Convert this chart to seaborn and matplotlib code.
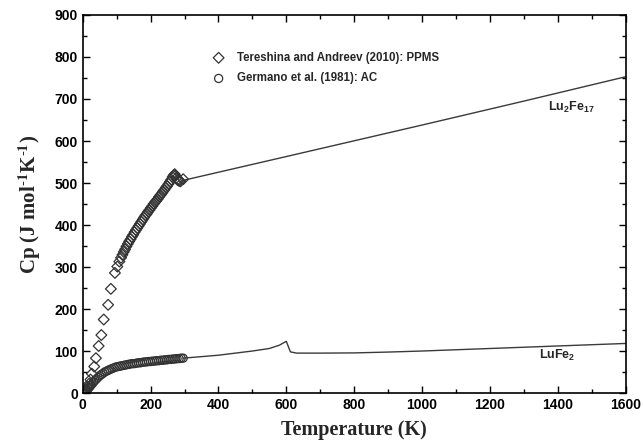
import matplotlib
matplotlib.use("Agg")
import matplotlib.pyplot as plt
import seaborn as sns

# Tereshina and Andreev (2010), PPMS: Lu2Fe17
t_pp = [2, 6, 10, 14, 19, 23, 27, 34, 39, 47, 55, 62, 75, 83, 95, 102, 108,
        113, 117, 121, 125, 129, 133, 137, 141, 145, 149, 153, 157, 161, 165,
        169, 173, 177, 181, 185, 189, 193, 197, 201, 205, 209, 213, 217, 221,
        225, 229, 233, 237, 241, 245, 249, 253, 257, 261, 265, 268, 271, 273,
        276, 279, 282, 285, 288, 296]
cp_pp = [0, 3, 8, 14, 22, 32, 46, 63, 83, 112, 138, 175, 210, 248, 286, 301, 313,
         322, 329, 336, 342, 349, 355, 361, 366, 372, 377, 383, 388, 393, 398,
         403, 408, 413, 418, 423, 427, 432, 436, 441, 445, 450, 454, 458, 462,
         467, 471, 475, 480, 484, 489, 493, 498, 503, 508, 514, 518, 521, 517,
         512, 508, 506, 505, 504, 509]

# Germano et al. (1981), AC: LuFe2
t_ac = [3, 8, 12, 16, 20, 24, 28, 32, 36, 40, 45, 50, 55, 60, 65, 70, 75, 80,
        86, 92, 98, 104, 110, 116, 122, 128, 134, 140, 146, 152, 158, 164, 170,
        176, 182, 188, 194, 200, 206, 212, 218, 224, 230, 236, 242, 248, 254,
        260, 266, 272, 278, 284, 290, 296]
cp_ac = [1, 3, 6, 10, 14, 18, 22, 26, 30, 33, 37, 41, 44, 47, 50, 52, 54, 56,
         58, 60, 62, 63, 64, 65, 66, 67, 68, 69, 70, 70, 71, 72, 72,
         73, 74, 74, 75, 75, 76, 76, 77, 77, 78, 78, 79, 79, 80,
         80, 81, 81, 82, 82, 83, 83]

# Assessed curves
t_lu2fe17 = [290, 300, 600, 1000, 1300, 1600]
cp_lu2fe17 = [505, 507, 563, 638, 695, 753]

t_lufe2 = [296, 400, 500, 550, 580, 595, 600, 612, 630, 700, 800, 900, 1000,
           1200, 1400, 1600]
cp_lufe2 = [83, 90, 100, 106, 114, 121, 123, 98, 95, 95, 95.5, 97.5, 100,
            106, 112, 118]

x_ticks = list(range(0, 1601, 200))
y_ticks = list(range(0, 901, 100))

sns.set_style("ticks")
plt.rcParams["font.family"] = ["Liberation Sans", "DejaVu Sans"]
plt.rcParams["mathtext.fontset"] = "custom"
plt.rcParams["mathtext.rm"] = "Liberation Sans:bold"
plt.rcParams["mathtext.bf"] = "Liberation Sans:bold"

fig = plt.figure(figsize=(6.43, 4.41), dpi=100)
ax = fig.add_axes([0.1286, 0.1088, 0.8445, 0.8572])

line_kw = dict(color="#3a3a3a", linewidth=1.0, legend=False, ax=ax)
sns.lineplot(x=t_lu2fe17, y=cp_lu2fe17, **line_kw)
sns.lineplot(x=t_lufe2, y=cp_lufe2, **line_kw)

sns.scatterplot(x=t_pp, y=cp_pp, marker="D", s=30, facecolor="none",
                edgecolor="#333333", linewidth=0.9, ax=ax,
                label="Tereshina and Andreev (2010): PPMS")
sns.scatterplot(x=t_ac, y=cp_ac, marker="o", s=34, facecolor="none",
                edgecolor="#333333", linewidth=0.9, ax=ax,
                label="Germano et al. (1981): AC")

ax.set_xlim(0, 1600)
ax.set_ylim(0, 900)
ax.set_xticks(x_ticks)
ax.set_yticks(y_ticks)
ax.set_xticks(list(range(100, 1600, 200)), minor=True)
ax.set_yticks(list(range(50, 900, 100)), minor=True)
ax.tick_params(which="both", direction="in", top=True, right=True,
               width=1.0, colors="black")
ax.tick_params(which="major", length=5, labelsize=10)
ax.tick_params(which="minor", length=3)
for lab in ax.get_xticklabels() + ax.get_yticklabels():
    lab.set_fontweight("bold")
for sp in ax.spines.values():
    sp.set_linewidth(1.2)
    sp.set_color("black")

ax.set_xlabel("Temperature (K)", family="Liberation Serif", fontweight="bold",
              fontsize=14.5, labelpad=6)
ax.set_ylabel("Cp (J mol$^{\u2010\\mathbf{1}}$K$^{\u2010\\mathbf{1}}$)",
              family="Liberation Serif", fontweight="bold", fontsize=15,
              math_fontfamily="stix", labelpad=8)

ax.text(1439, 679, "Lu$_{2}$Fe$_{17}$", ha="center", va="center",
        fontsize=9, fontweight="bold")
ax.text(1397, 90, "LuFe$_{2}$", ha="center", va="center",
        fontsize=9, fontweight="bold")

leg = ax.legend(loc="upper left", bbox_to_anchor=(0.21, 0.93), frameon=False,
                prop={"family": "Liberation Sans", "weight": "bold", "size": 8.3},
                handletextpad=0.6, labelspacing=0.75, markerscale=1.0)

fig.savefig("out.png", dpi=100)
